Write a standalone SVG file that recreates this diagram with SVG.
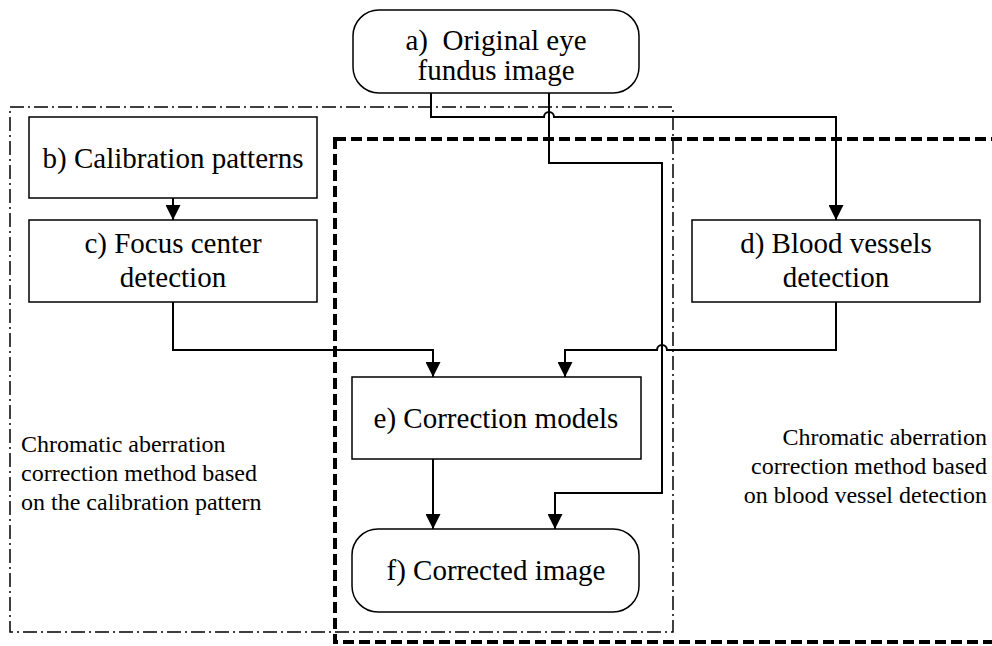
<svg xmlns="http://www.w3.org/2000/svg" width="992" height="646" viewBox="0 0 992 646">
<style>
.box{fill:#fff;stroke:#000;stroke-width:1.5}
.c{fill:none;stroke:#000;stroke-width:2}
.dd{fill:none;stroke:#000;stroke-width:1.5;stroke-dasharray:14 4 2 4}
.dash{fill:none;stroke:#000;stroke-width:4;stroke-dasharray:11 5}
</style>
<defs>
<marker id="ah" markerWidth="15" markerHeight="15" refX="15" refY="7.5" orient="auto" markerUnits="userSpaceOnUse">
<path d="M0,0 L15,7.5 L0,15 Z" fill="#000"/>
</marker>
</defs>
<g id="regions">
<rect class="dd" x="10" y="107" width="663" height="525"/>
<rect class="dash" x="335" y="139" width="670" height="503"/>
</g>
<g id="nodes" font-family="Liberation Serif, serif" font-size="29" text-anchor="middle">
<g id="node-a"><rect class="box" x="353" y="10" width="286" height="83" rx="26"/><text x="496" y="50" xml:space="preserve">a)  Original eye</text><text x="496" y="80">fundus image</text></g>
<g id="node-b"><rect class="box" x="29" y="117" width="288" height="81"/><text x="173" y="168">b) Calibration patterns</text></g>
<g id="node-c"><rect class="box" x="29" y="220" width="288" height="82"/><text x="173" y="253">c) Focus center</text><text x="173" y="287">detection</text></g>
<g id="node-d"><rect class="box" x="692" y="220" width="288" height="82"/><text x="836" y="253">d) Blood vessels</text><text x="836" y="287">detection</text></g>
<g id="node-e"><rect class="box" x="352" y="377" width="289" height="82"/><text x="496" y="428">e) Correction models</text></g>
<g id="node-f"><rect class="box" x="352" y="529" width="287" height="83" rx="26"/><text x="496" y="580">f) Corrected image</text></g>
</g>
<g id="connectors">
<path class="c" d="M173,198 V220" marker-end="url(#ah)"/>
<path class="c" d="M431,93 V117 H544 A5,5 0 0 1 554,117 H836 V220" marker-end="url(#ah)"/>
<path class="c" d="M549,93 V163 H662 V493 H555 V529" marker-end="url(#ah)"/>
<path class="c" d="M173,302 V350 H433 V377" marker-end="url(#ah)"/>
<path class="c" d="M836,302 V350 H667 A5,5 0 0 0 657,350 H565 V377" marker-end="url(#ah)"/>
<path class="c" d="M433,459 V529" marker-end="url(#ah)"/>
</g>
<g id="labels" font-family="Liberation Serif, serif" font-size="24">
<text x="21" y="452">Chromatic aberration</text>
<text x="21" y="481">correction method based</text>
<text x="21" y="510">on the calibration pattern</text>
<text text-anchor="end" x="987" y="445">Chromatic aberration</text>
<text text-anchor="end" x="987" y="474">correction method based</text>
<text text-anchor="end" x="987" y="503">on blood vessel detection</text>
</g>
</svg>
